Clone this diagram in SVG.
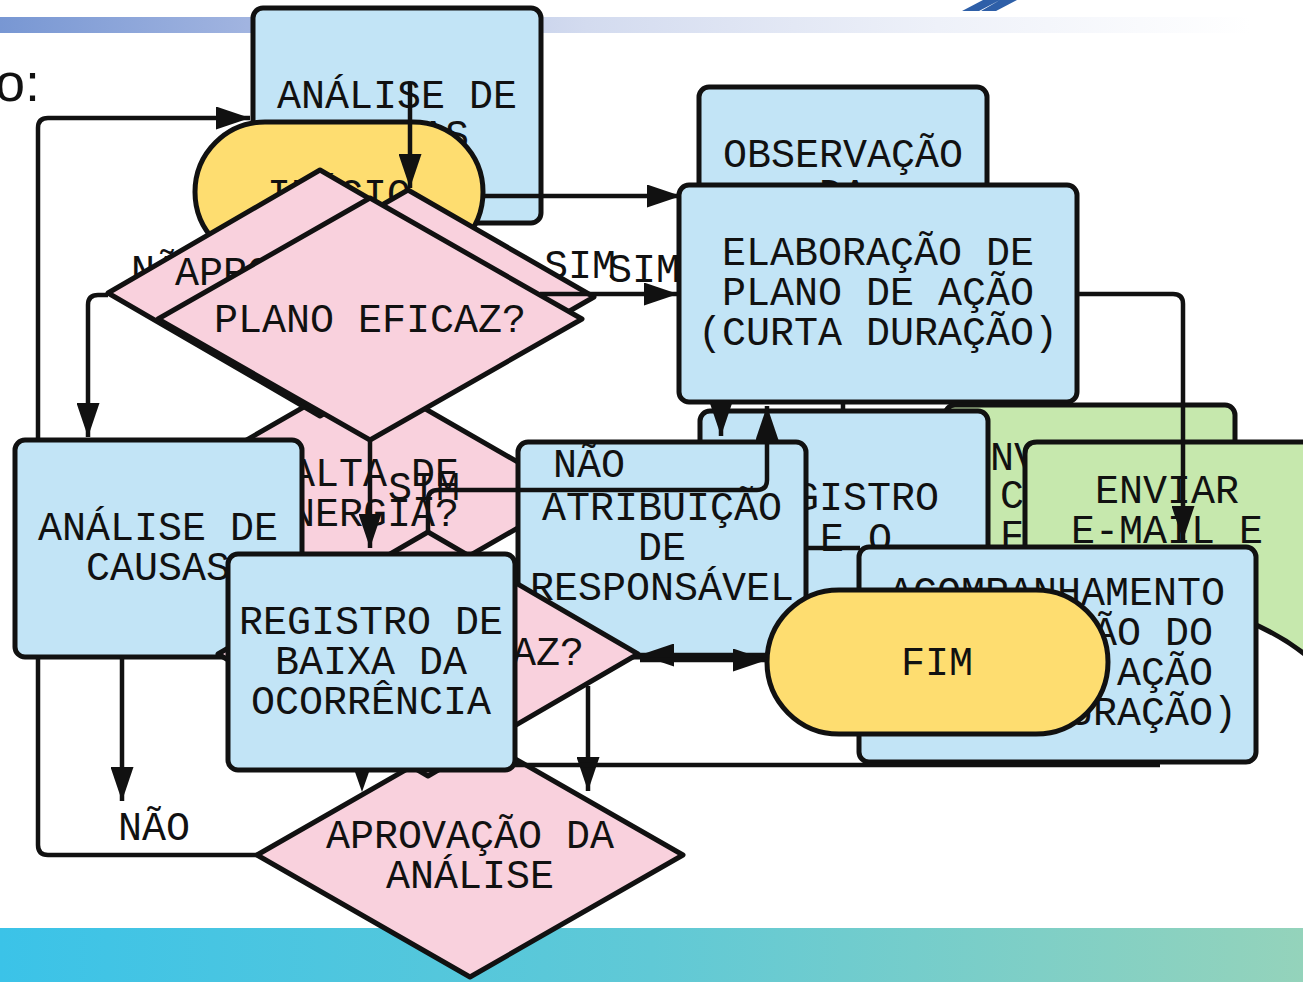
<svg xmlns="http://www.w3.org/2000/svg" width="1303" height="982" viewBox="0 0 1303 982">
<defs>
<linearGradient id="gTop" x1="0" y1="0" x2="1303" y2="0" gradientUnits="userSpaceOnUse">
<stop offset="0" stop-color="#7897d3"/>
<stop offset="0.19" stop-color="#a1b4e0"/>
<stop offset="0.45" stop-color="#d3dbef"/>
<stop offset="0.72" stop-color="#eef1f9"/>
<stop offset="0.96" stop-color="#ffffff"/>
</linearGradient>
<linearGradient id="gBot" x1="0" y1="0" x2="1303" y2="0" gradientUnits="userSpaceOnUse">
<stop offset="0" stop-color="#3bc3e8"/>
<stop offset="0.5" stop-color="#60c9d6"/>
<stop offset="1" stop-color="#94d3bb"/>
</linearGradient>
<marker id="ah" markerUnits="userSpaceOnUse" markerWidth="34" markerHeight="23" refX="34" refY="11.5" orient="auto">
<path d="M0,0 L34,11.5 L0,23 Z" fill="#111"/>
</marker>
</defs>
<style>
.box{fill:#c2e4f6;stroke:#111;stroke-width:5}
.dia{fill:#f9d1dd;stroke:#111;stroke-width:5;stroke-linejoin:round}
.term{fill:#fedd70;stroke:#111;stroke-width:5}
.grn{fill:#c6e8ad;stroke:#111;stroke-width:5}
.t{font-family:"Liberation Mono","DejaVu Sans Mono",monospace;font-size:40px;fill:#111;text-anchor:middle}
.s{text-anchor:start}
.c{fill:none;stroke:#111;stroke-width:4.5;stroke-linejoin:round}
.ca{fill:none;stroke:#111;stroke-width:4.5;stroke-linejoin:round;marker-end:url(#ah)}
</style>
<g id="background">
<rect width="1303" height="982" fill="#fff"/>
<rect x="0" y="17" width="1303" height="16" fill="url(#gTop)"/>
<rect x="0" y="928" width="1303" height="54" fill="url(#gBot)"/>
<path d="M962,11 L979,11 L1000,0 L983,0 Z M981,11 L996,11 L1017,0 L1000,0 Z" fill="#2e5fa8"/>
<text x="-5" y="101" font-family="Liberation Sans, Arial, sans-serif" font-size="54" fill="#111">o:</text>
</g>
<g id="n-analise-top">
<rect class="box" x="253" y="8" width="288" height="215" rx="10"/>
<text class="t" x="397" y="108">ANÁLISE DE</text>
<text class="t" x="397" y="148">CAUSAS</text>
</g>
<g id="n-inicio">
<rect class="term" x="195" y="122" width="288" height="140" rx="70"/>
<text class="t" x="339" y="207">INÍCIO</text>
</g>
<g id="n-observacao">
<rect class="box" x="699" y="87" width="288" height="220" rx="10"/>
<text class="t" x="843" y="167">OBSERVAÇÃO</text>
<text class="t" x="843" y="207">DA</text>
</g>
<g id="labels-back">
<text class="t s" x="131" y="283">NÃO</text>
<text class="t s" x="544" y="278">SIM</text>
<text class="t s" x="608" y="282">SIM</text>
</g>
<g id="n-falta">
<polygon class="dia" points="363,373 575,495 363,617 151,495"/>
<text class="t" x="363" y="486">FALTA DE</text>
<text class="t" x="363" y="526">ENERGIA?</text>
</g>
<g id="n-aprovacao-top">
<polygon class="dia" points="320,170 532,293 320,416 108,293"/>
<text class="t" x="319" y="285">APROVAÇÃO DA</text>
<text class="t" x="319" y="325">ANÁLISE</text>
</g>
<g id="n-decisao-c">
<polygon class="dia" points="408,190 594,297 408,404 222,297"/>
</g>
<g id="n-plano-eficaz-top">
<polygon class="dia" points="370,198 582,319 370,440 158,319"/>
<text class="t" x="370" y="332">PLANO EFICAZ?</text>
</g>
<g id="n-elaboracao">
<rect class="box" x="679" y="185" width="398" height="217" rx="10"/>
<text class="t" x="878" y="265">ELABORAÇÃO DE</text>
<text class="t" x="878" y="305">PLANO DE AÇÃO</text>
<text class="t" x="878" y="345">(CURTA DURAÇÃO)</text>
</g>
<g id="n-analise-bottom">
<rect class="box" x="15" y="440" width="287" height="217" rx="10"/>
<text class="t" x="158" y="540">ANÁLISE DE</text>
<text class="t" x="158" y="580">CAUSAS</text>
</g>
<g id="n-green-back">
<rect class="grn" x="945" y="405" width="290" height="215" rx="10"/>
<text class="t s" x="966" y="470">ENVIAR</text>
<text class="t s" x="1000" y="508">C</text>
<text class="t s" x="1000" y="548">F</text>
</g>
<g id="n-registro-mid">
<rect class="box" x="700" y="411" width="288" height="210" rx="10"/>
<text class="t" x="843" y="510">REGISTRO</text>
<text class="t s" x="820" y="551">E O</text>
</g>
<g id="n-atribuicao">
<rect class="box" x="518" y="442" width="288" height="215" rx="10"/>
<text class="t" x="662" y="520">ATRIBUIÇÃO</text>
<text class="t" x="662" y="560">DE</text>
<text class="t" x="662" y="600">RESPONSÁVEL</text>
</g>
<g id="n-aprovacao">
<polygon class="dia" points="470,733 683,855 470,977 257,855"/>
<text class="t" x="470" y="848">APROVAÇÃO DA</text>
<text class="t" x="470" y="888">ANÁLISE</text>
</g>
<g id="n-plano-eficaz-bottom">
<polygon class="dia" points="428,532 638,654 428,776 218,654"/>
<text class="t" x="428" y="665">PLANO EFICAZ?</text>
</g>
<g id="n-registro-baixa">
<rect class="box" x="228" y="554" width="287" height="216" rx="10"/>
<text class="t" x="371" y="634">REGISTRO DE</text>
<text class="t" x="371" y="674">BAIXA DA</text>
<text class="t" x="371" y="714">OCORRÊNCIA</text>
</g>
<g id="n-enviar">
<path class="grn" d="M1025,454 Q1025,442 1037,442 L1340,442 L1340,690 Q1280,612 1150,598 L1025,598 Z"/>
<text class="t" x="1167" y="503">ENVIAR</text>
<text class="t" x="1167" y="543">E-MAIL E</text>
</g>
<g id="n-acompanhamento">
<rect class="box" x="859" y="547" width="397" height="215" rx="10"/>
<text class="t" x="1057" y="605">ACOMPANHAMENTO</text>
<text class="t" x="1057" y="645">E EXECUÇÃO DO</text>
<text class="t" x="1057" y="685">PLANO DE AÇÃO</text>
<text class="t" x="1057" y="725">(LONGA DURAÇÃO)</text>
</g>
<g id="n-fim">
<rect class="term" x="767" y="590" width="341" height="144" rx="72"/>
<text class="t" x="937" y="675">FIM</text>
</g>
<g id="connectors">
<path class="c" d="M257,855 L48,855 Q38,855 38,845 L38,657"/>
<path class="ca" d="M38,440 L38,128 Q38,118 48,118 L250,118"/>
<path class="ca" d="M410,83 L410,188"/>
<path class="ca" d="M483,196 L681,196"/>
<path class="ca" d="M540,294 L678,294"/>
<path class="ca" d="M108,295 L98,295 Q88,295 88,305 L88,437"/>
<path class="ca" d="M1077,294 L1173,294 Q1183,294 1183,304 L1183,540"/>
<path class="ca" d="M721,402 L721,436"/>
<path class="ca" d="M428,532 L428,500 Q428,490 438,490 L757,490 Q767,490 767,480 L767,406"/>
<path class="ca" d="M370,440 L370,548"/>
<path class="ca" d="M768,655 L640,655"/>
<path class="ca" d="M640,660 L767,660"/>
<path class="ca" d="M588,686 L588,791"/>
<polygon points="355,772 369,772 362,792" fill="#111"/>
<path class="ca" d="M122,657 L122,801"/>
<path class="c" d="M515,765 L1160,765"/>
<path class="c" d="M843,402 L843,411"/>
<path class="c" d="M806,548 L860,548"/>
<text class="t s" x="388" y="500">SIM</text>
<text class="t s" x="553" y="477">NÃO</text>
<text class="t s" x="118" y="840">NÃO</text>
</g>
</svg>
